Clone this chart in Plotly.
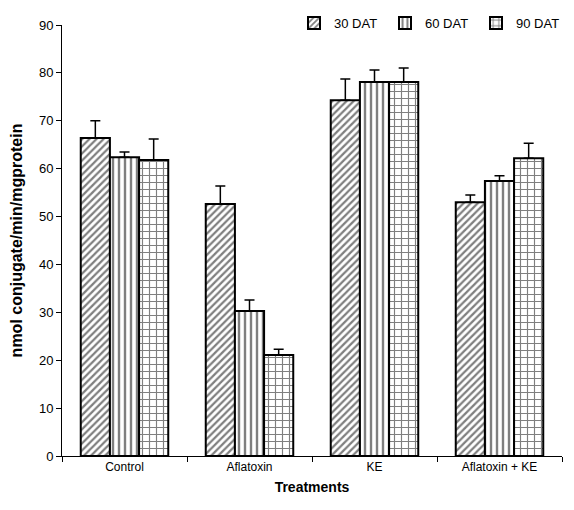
import plotly.graph_objects as go

categories = ["Control", "Aflatoxin", "KE", "Aflatoxin + KE"]
series_names = ["30 DAT", "60 DAT", "90 DAT"]
values_30 = [66.4, 52.6, 74.3, 53.0]
values_60 = [62.4, 30.3, 78.1, 57.4]
values_90 = [61.8, 21.1, 78.1, 62.2]
err_30 = [3.6, 3.8, 4.4, 1.5]
err_60 = [1.1, 2.3, 2.5, 1.1]
err_90 = [4.4, 1.2, 2.9, 3.1]
y_ticks = [0, 10, 20, 30, 40, 50, 60, 70, 80, 90]

patterns = ["/", "|", "+"]
sizes = [5, 6, 7]
solids = [0.45, 0.4, 0.3]
all_vals = [values_30, values_60, values_90]
all_errs = [err_30, err_60, err_90]

fig = go.Figure()
for name, vals, errs, pat, sz, so in zip(series_names, all_vals, all_errs, patterns, sizes, solids):
    fig.add_trace(go.Bar(
        name=name, x=categories, y=vals,
        marker=dict(color="white", line=dict(color="black", width=2),
                    pattern=dict(shape=pat, fgcolor="black", bgcolor="white",
                                 size=sz, solidity=so)),
        error_y=dict(type="data", symmetric=False, array=errs,
                     arrayminus=[0] * len(errs), color="black",
                     thickness=1.5, width=5),
    ))

fig.update_layout(
    width=574, height=510,
    paper_bgcolor="white", plot_bgcolor="white",
    margin=dict(l=54, r=20, t=17, b=62, autoexpand=False),
    barmode="group", bargap=0.3, bargroupgap=0,
    font=dict(family="Liberation Sans, Arial", size=12, color="black"),
    legend=dict(orientation="h", xref="paper", yref="container",
                x=1.01, xanchor="right", y=1.0, yanchor="top",
                font=dict(size=13), itemwidth=30, traceorder="normal",
                entrywidth=46, entrywidthmode="pixels"),
    showlegend=True,
)
fig.update_yaxes(
    range=[0, 90], tickvals=y_ticks, showgrid=False, zeroline=False,
    showline=True, linecolor="black", linewidth=1, ticks="outside",
    ticklen=5, tickcolor="black", automargin=False, tickfont=dict(size=13),
    title=dict(text="<b>nmol conjugate/min/mgprotein</b>", font=dict(size=16), standoff=12),
)
fig.update_xaxes(
    showgrid=False, showline=True, linecolor="black", linewidth=1,
    ticks="outside", tickson="boundaries", ticklen=5, tickcolor="black",
    automargin=False,
    title=dict(text="<b>Treatments</b>", font=dict(size=14), standoff=8),
    tickfont=dict(size=12),
)
fig.write_html("out.html")
